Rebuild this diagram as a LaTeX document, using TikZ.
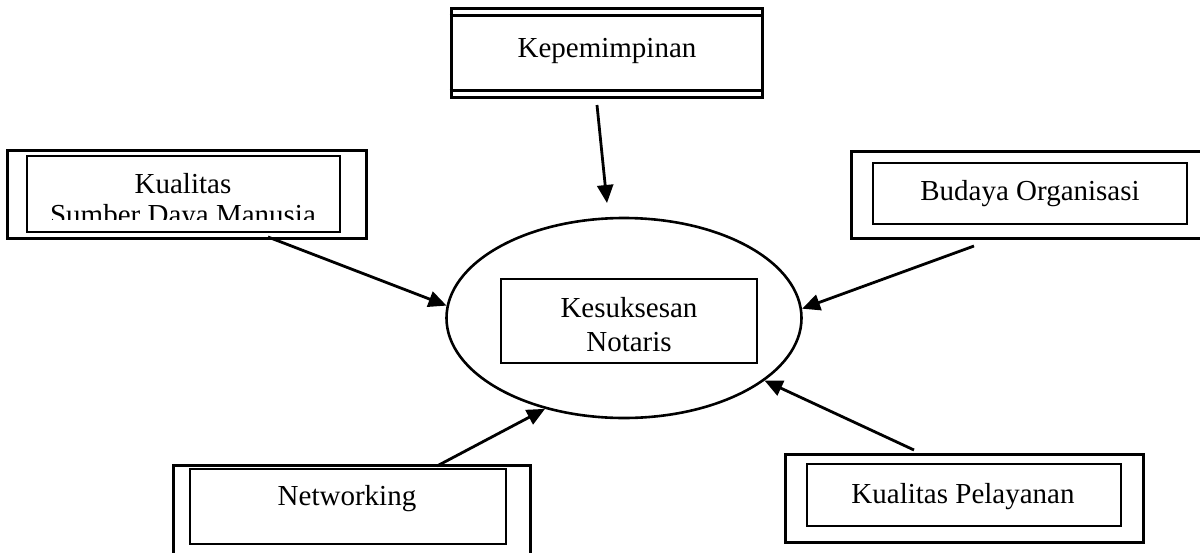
\documentclass[tikz,border=0pt]{standalone}
\usepackage{fontspec}
\setmainfont{Liberation Serif}
\usetikzlibrary{arrows.meta,shapes.geometric}
\begin{document}
\begin{tikzpicture}[x=1pt,y=-1pt,
  outerbox/.style={draw,line width=3pt,rectangle,inner sep=0pt},
  innerbox/.style={draw,line width=2.2pt,rectangle,inner sep=0pt},
  sepline/.style={line width=2.2pt},
  lbl/.style={font=\fontsize{29}{34}\selectfont,inner sep=0pt,anchor=base},
  arr/.style={line width=2.8pt,-{Triangle[length=18pt,width=16pt]}}]
\useasboundingbox (0,0) rectangle (1200,552);
\clip (0,0) rectangle (1200,552);

% Kepemimpinan
\node[outerbox,minimum width=311pt,minimum height=89pt] (kep) at (606.5,52.5) {};
\draw[sepline] ([yshift=-9pt]kep.north west) -- ([yshift=-9pt]kep.north east);
\draw[sepline] ([yshift=8pt]kep.south west) -- ([yshift=8pt]kep.south east);
\node[lbl] (kepT) at (607,57) {Kepemimpinan};

% Kualitas Sumber Daya Manusia
\node[outerbox,minimum width=359pt,minimum height=88pt] (ksdmO) at (186.5,194) {};
\node[innerbox,minimum width=313pt,minimum height=76pt] (ksdmI) at (183.5,194) {};
\begin{scope}
\clip (ksdmI.north west) rectangle ([yshift=14pt]ksdmI.south east);
\node[lbl,font=\fontsize{29}{31}\selectfont] (ksdmT) at (183,193)
  {\begin{tabular}[t]{@{}c@{}}Kualitas\\Sumber Daya Manusia\end{tabular}};
\end{scope}

% Budaya Organisasi
\node[outerbox,minimum width=351pt,minimum height=87pt] (budO) at (1026.5,194.5) {};
\node[innerbox,minimum width=314pt,minimum height=61pt] (budI) at (1030,193.5) {};
\node[lbl] (budT) at (1030,200) {Budaya Organisasi};

% Networking
\node[outerbox,minimum width=357pt,minimum height=90pt] (netO) at (351.5,510) {};
\node[innerbox,minimum width=316pt,minimum height=75pt] (netI) at (348,506.5) {};
\node[lbl] (netT) at (347,505) {Networking};

% Kualitas Pelayanan
\node[outerbox,minimum width=358pt,minimum height=88pt] (pelO) at (964,498) {};
\node[innerbox,minimum width=314pt,minimum height=62pt] (pelI) at (964,495) {};
\node[lbl] (pelT) at (963,503) {Kualitas Pelayanan};

% Kesuksesan Notaris
\node[draw,ellipse,line width=2.6pt,inner sep=0pt,minimum width=355pt,minimum height=200pt] (ell) at (624,318) {};
\node[draw,rectangle,line width=1.8pt,inner sep=0pt,minimum width=256pt,minimum height=84pt] (kesI) at (629,321) {};
\node[lbl] (kesT) at (629,317)
  {\begin{tabular}[t]{@{}c@{}}Kesuksesan\\Notaris\end{tabular}};

% connectors
\coordinate (kepS) at (597,105);
\coordinate (kepE) at (607,203);
\coordinate (ksdmS) at (268,237);
\coordinate (budS) at (974,246);
\coordinate (netS) at (437,466);
\coordinate (pelS) at (914,450);
\draw[arr] (kepS) -- (kepE);
\draw[arr] (ksdmS) -- (ell.176);
\draw[arr] (budS) -- (ell.3);
\draw[arr] (netS) -- (ell.-131);
\draw[arr] (pelS) -- (ell.-24);
\end{tikzpicture}
\end{document}
